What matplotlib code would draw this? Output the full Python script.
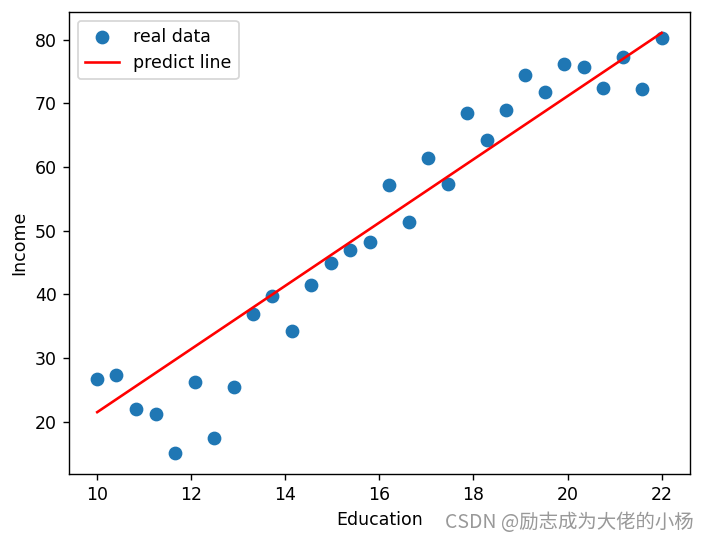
import matplotlib
matplotlib.use("Agg")
import matplotlib.pyplot as plt
import numpy as np

education = [10.0, 10.41, 10.83, 11.24, 11.66, 12.07, 12.48, 12.90, 13.31, 13.72,
             14.14, 14.55, 14.97, 15.38, 15.79, 16.21, 16.62, 17.03, 17.45, 17.86,
             18.28, 18.69, 19.10, 19.52, 19.93, 20.34, 20.76, 21.17, 21.59, 22.0]
income = [26.7, 27.3, 22.0, 21.2, 15.1, 26.3, 17.4, 25.5, 36.9, 39.7,
          34.3, 41.4, 44.9, 47.0, 48.2, 57.1, 51.4, 61.4, 57.4, 68.4,
          64.3, 68.9, 74.5, 71.8, 76.1, 75.7, 72.4, 77.3, 72.2, 80.2]
line_x = [10.0, 22.0]
line_y = [21.5, 81.05]

DPI = 125
fig = plt.figure(figsize=(709 / DPI, 541 / DPI), dpi=DPI)
ax = fig.add_axes([0.0973, 0.124, 0.8757, 0.854])
ax.scatter(education, income, s=48, color="#1f77b4", label="real data")
ax.plot(line_x, line_y, color="red", label="predict line")
ax.set_xlabel("Education")
ax.set_ylabel("Income")
ax.legend(loc="upper left")
fig.text(0.627, 0.035, "CSDN @励志成为大佬的小杨", color="#999999", fontsize=11.2,
         family=["Noto Sans CJK SC", "DejaVu Sans"], va="center")
fig.savefig("out.png", dpi=DPI)
